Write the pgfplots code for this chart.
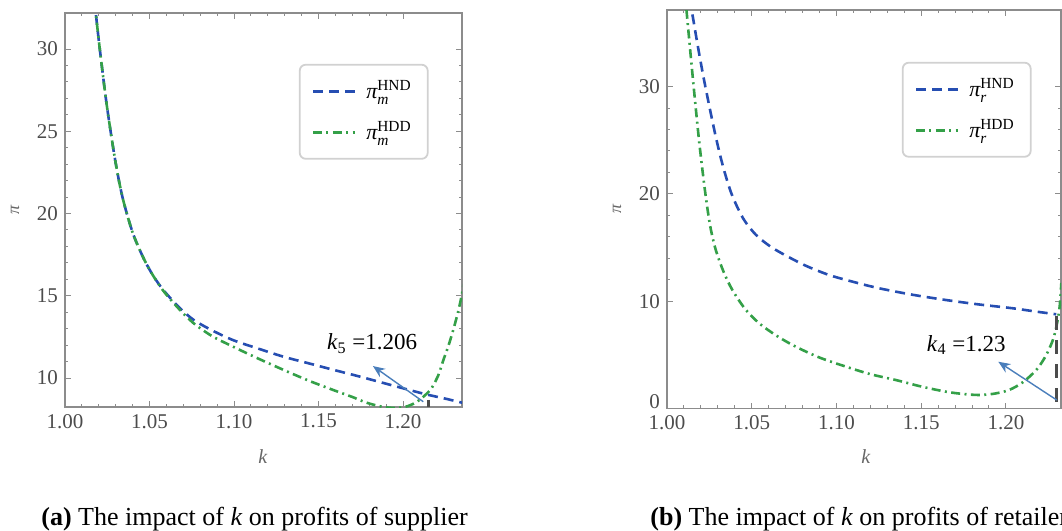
\documentclass[border=0pt]{standalone}
\usepackage{pgfplots}
\pgfplotsset{compat=1.18}
\usepackage{amsmath}
\usepackage{fontspec}
\setmainfont{Liberation Serif}
\usetikzlibrary{arrows.meta}

\definecolor{hnd}{RGB}{38,78,178}
\definecolor{hdd}{RGB}{52,160,72}
\definecolor{arr}{RGB}{74,126,187}
\definecolor{frm}{RGB}{140,140,140}

\pgfplotsset{
  kplot/.style={
    scale only axis,
    axis line style={frm, line width=0.6pt},
    every tick/.style={frm, line width=0.5pt},
    major tick length=3pt,
    minor tick length=1.7pt,
    tick align=inside,
    xmin=1,
    xtick={1,1.05,1.1,1.15,1.2},
    minor tick num=4,
    /pgf/number format/assume math mode=true,
    tick label style={font=\fontsize{10.5}{12}\selectfont, text=black!70},
    x tick label style={/pgf/number format/.cd, fixed, fixed zerofill, precision=2, /tikz/.cd},
    legend style={
      anchor=north west,
      draw=black!18, line width=0.9pt, rounded corners=3pt, fill=white,
      font=\fontsize{11}{13}\selectfont,
      inner xsep=6pt, inner ysep=6pt, row sep=6pt,
      cells={anchor=west},
    },
    legend image code/.code={\draw[#1] (0pt,0pt) -- (21pt,0pt); \path (24pt,0pt);},
  },
  hndline/.style={hnd, line width=1.3pt, dash pattern=on 5pt off 3pt, smooth},
  hddline/.style={hdd, line width=1.3pt, dash pattern=on 4.5pt off 2.2pt on 1pt off 2.2pt, smooth},
}

\begin{document}
\begin{tikzpicture}
\path[use as bounding box] (0,0) rectangle (531pt,-265.5pt);
\clip (0,0) rectangle (531pt,-265.5pt);

% (a) supplier
\begin{axis}[kplot,
    at={(32.5pt,-6.5pt)}, anchor=north west,
    width=198.5pt, height=197pt,
    xmax=1.2349, ymin=8.24, ymax=32.19,
    ytick={10,15,20,25,30},
    legend style={at={(axis description cs:0.589,0.871)}},
  ]
  \addplot[hndline] coordinates {
    (1.0165,34.0) (1.0182,32.2) (1.0207,29.9) (1.0247,26.6) (1.0296,23.3)
    (1.0340,21.0) (1.0400,18.85) (1.0464,17.3) (1.0520,16.25) (1.0582,15.35)
    (1.0670,14.35) (1.0759,13.55) (1.0870,12.9) (1.0996,12.3) (1.1140,11.8)
    (1.1292,11.3) (1.1440,10.9) (1.1588,10.5) (1.1740,10.1) (1.1884,9.7)
    (1.2010,9.35) (1.2140,9.0) (1.2250,8.75) (1.2350,8.5)
  };
  \addlegendentry{$\text{\itshape π}^{\text{HND}}_{\text{\itshape m}}$}
  \addplot[hddline] coordinates {
    (1.0165,34.0) (1.0182,32.2) (1.0207,29.9) (1.0247,26.6) (1.0296,23.3)
    (1.0340,21.0) (1.0400,18.85) (1.0464,17.3) (1.0520,16.25) (1.0582,15.3)
    (1.0670,14.25) (1.0759,13.35) (1.0870,12.55) (1.0996,11.9) (1.1140,11.2)
    (1.1292,10.5) (1.1440,9.85) (1.1588,9.27) (1.1700,8.85) (1.1785,8.5)
    (1.1880,8.25) (1.1963,8.18) (1.2030,8.3) (1.2081,8.55) (1.2130,8.95)
    (1.2170,9.4) (1.2210,10.2) (1.2239,11.1) (1.2270,12.0) (1.2302,13.1)
    (1.2330,14.2) (1.2350,15.2) (1.2370,16.5)
  };
  \addlegendentry{$\text{\itshape π}^{\text{HDD}}_{\text{\itshape m}}$}
  \draw[black!70, line width=1.5pt] (axis cs:1.215,8.68) -- (axis cs:1.215,8.24);
  \draw[arr, line width=0.7pt, -{Stealth[length=6pt,width=5pt]}]
    (axis cs:1.2120,8.56) -- (axis cs:1.1822,10.73);
  \node[font=\fontsize{11.5}{13}\selectfont] at (axis cs:1.1817,12.1)
    {\textit{k}\textsubscript{5} =1.206};
\end{axis}

% (b) retailer
\begin{axis}[kplot,
    at={(333.5pt,-5pt)}, anchor=north west,
    width=197pt, height=199.25pt,
    xmax=1.2325, ymin=0, ymax=37.14,
    ytick={10,20,30},
    extra y ticks={0},
    extra y tick style={tick label style={yshift=3.5pt}},
    legend style={at={(axis description cs:0.596,0.87)}},
  ]
  \addplot[hndline] coordinates {
    (1.0135,38.2) (1.0146,37.1) (1.0185,33.5) (1.0225,30.1) (1.0284,25.6)
    (1.0330,22.6) (1.0381,20.0) (1.0450,17.7) (1.0524,16.2) (1.0610,15.1)
    (1.0702,14.25) (1.0820,13.3) (1.0957,12.44) (1.1100,11.8) (1.1253,11.2)
    (1.1450,10.6) (1.1647,10.11) (1.1840,9.7) (1.2041,9.34) (1.2170,9.05)
    (1.2297,8.78)
  };
  \addlegendentry{$\text{\itshape π}^{\text{HND}}_{\text{\itshape r}}$}
  \addplot[hddline] coordinates {
    (1.0105,39.0) (1.0114,37.3) (1.0150,31.2) (1.0189,25.0) (1.0225,20.2)
    (1.0255,17.0) (1.0288,14.77) (1.0335,12.7) (1.0386,11.04) (1.0460,9.3)
    (1.0544,7.94) (1.0650,6.75) (1.0760,5.76) (1.0900,4.75) (1.1056,3.9)
    (1.1200,3.2) (1.1349,2.66) (1.1500,2.05) (1.1645,1.57) (1.1750,1.35)
    (1.1842,1.26) (1.1930,1.38) (1.2018,1.72) (1.2100,2.45) (1.2179,3.59)
    (1.2235,4.9) (1.2277,6.38) (1.2300,7.8) (1.2317,9.49) (1.2327,11.7)
  };
  \addlegendentry{$\text{\itshape π}^{\text{HDD}}_{\text{\itshape r}}$}
  \draw[black!70, line width=1.6pt, dash pattern=on 7pt off 5pt]
    (axis cs:1.2300,8.6) -- (axis cs:1.2300,0);
  \draw[arr, line width=0.7pt, -{Stealth[length=6pt,width=5pt]}]
    (axis cs:1.2300,0.79) -- (axis cs:1.1955,4.36);
  \node[font=\fontsize{11.5}{13}\selectfont] at (axis cs:1.1766,5.92)
    {\textit{k}\textsubscript{4} =1.23};
\end{axis}

% axis labels
\node[rotate=90, font=\fontsize{9}{11}\selectfont, text=black!60] at (7.5pt,-105pt) {\textit{π}};
\node[font=\fontsize{10}{12}\selectfont, text=black!60] at (131.5pt,-228.5pt) {\textit{k}};
\node[rotate=90, font=\fontsize{9}{11}\selectfont, text=black!60] at (308.5pt,-104.5pt) {\textit{π}};
\node[font=\fontsize{10}{12}\selectfont, text=black!60] at (433pt,-228.5pt) {\textit{k}};

% captions
\node[anchor=base west, inner sep=0pt, font=\fontsize{13}{15}\selectfont] at (20.5pt,-262.5pt)
  {\textbf{(a)} The impact of \textit{k} on profits of supplier};
\node[anchor=base west, inner sep=0pt, font=\fontsize{13}{15}\selectfont] at (325pt,-262.5pt)
  {\textbf{(b)} The impact of \textit{k} on profits of retailer};
\end{tikzpicture}
\end{document}
